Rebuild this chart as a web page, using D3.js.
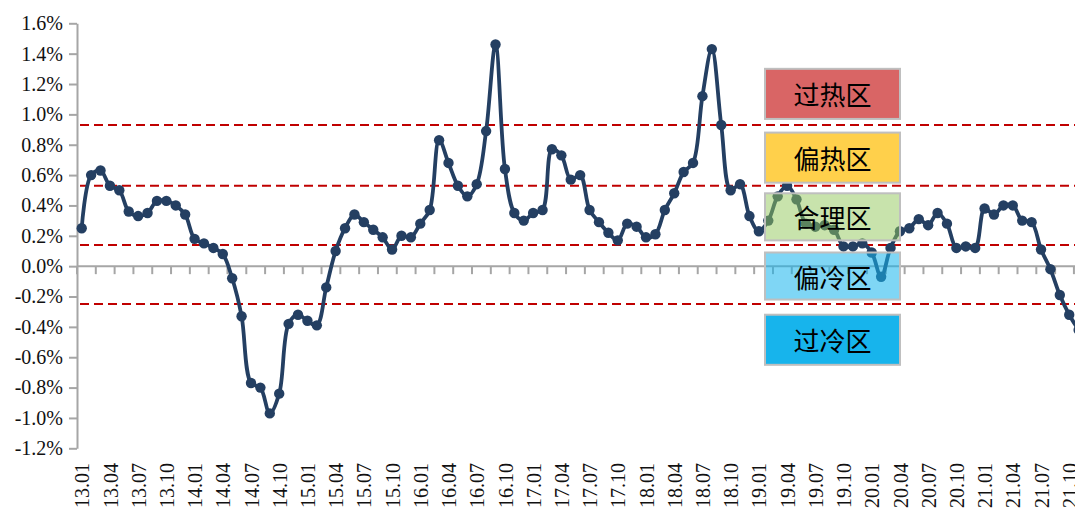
<!DOCTYPE html>
<html>
<head>
<meta charset="utf-8">
<script src="https://cdn.jsdelivr.net/npm/d3@7/dist/d3.min.js"></script>
<style>
  html, body { margin: 0; padding: 0; background: #fff; overflow: hidden; }
  svg { display: block; }
</style>
</head>
<body>
<svg id="chart" width="1075" height="508"></svg>
<script>
// ---- data ----
const years = ["13","14","15","16","17","18","19","20","21"];
const monthNums = ["01","02","03","04","05","06","07","08","09","10","11","12"];
const categories = [];
years.forEach(yr => monthNums.forEach(m => categories.push(yr + "." + m)));

const values = [
  0.25, 0.60, 0.63, 0.53, 0.50, 0.36, 0.33, 0.35, 0.43, 0.43, 0.40, 0.34,   // 2013
  0.18, 0.15, 0.12, 0.08, -0.08, -0.33, -0.77, -0.80, -0.97, -0.84, -0.38, -0.32, // 2014
  -0.36, -0.39, -0.14, 0.10, 0.25, 0.34, 0.29, 0.24, 0.19, 0.11, 0.20, 0.19, // 2015
  0.28, 0.37, 0.83, 0.68, 0.53, 0.46, 0.54, 0.89, 1.46, 0.64, 0.35, 0.30,   // 2016
  0.35, 0.37, 0.77, 0.73, 0.57, 0.60, 0.37, 0.29, 0.22, 0.17, 0.28, 0.26,   // 2017
  0.19, 0.21, 0.37, 0.48, 0.62, 0.68, 1.12, 1.43, 0.93, 0.50, 0.54, 0.33,   // 2018
  0.23, 0.30, 0.46, 0.53, 0.44, 0.28, 0.26, 0.27, 0.24, 0.13, 0.13, 0.15,   // 2019
  0.09, -0.07, 0.12, 0.23, 0.25, 0.31, 0.27, 0.35, 0.28, 0.12, 0.13, 0.12,  // 2020
  0.38, 0.34, 0.40, 0.40, 0.30, 0.29, 0.11, -0.02, -0.19, -0.32, -0.42      // 2021
];

const yTicks = [-1.2, -1.0, -0.8, -0.6, -0.4, -0.2, 0.0, 0.2, 0.4, 0.6, 0.8, 1.0, 1.2, 1.4, 1.6];
const xTickLabels = categories.filter((c, i) => i % 3 === 0);

const thresholds = [0.93, 0.53, 0.14, -0.25];
const zoneNames = ["过热区", "偏热区", "合理区", "偏冷区", "过冷区"];
const zoneColors = ["#D96565", "#FFD04B", "rgba(146,200,90,0.5)", "rgba(22,180,237,0.55)", "#17B4EC"];
// zone box value ranges (top, bottom) in %
const zoneTop =    [1.30, 0.88, 0.48, 0.09, -0.32];
const zoneBottom = [0.97, 0.55, 0.17, -0.22, -0.65];

// ---- layout ----
const svg = d3.select("#chart");
const plotLeft = 77, plotTop = 23.3, plotBottom = 448.3;
const bw = 9.405;
const x = d3.scaleBand().domain(categories).range([plotLeft, plotLeft + categories.length * bw]).padding(0);
const y = d3.scaleLinear().domain([-1.2, 1.6]).range([plotBottom, plotTop]);
const cx = c => x(c) + x.bandwidth() / 2;

const serif = "'Liberation Serif', 'Times New Roman', serif";

// y axis
const yAxis = d3.axisLeft(y).tickValues(yTicks).tickFormat(d => d.toFixed(1) + "%").tickSize(8).tickSizeOuter(0).tickPadding(6);
const gy = svg.append("g").attr("transform", `translate(${plotLeft},0)`).call(yAxis);
gy.select(".domain").attr("stroke", "#A6A6A6").attr("stroke-width", 2);
gy.selectAll(".tick line").attr("stroke", "#A6A6A6").attr("stroke-width", 2);
gy.selectAll(".tick text").attr("font-family", serif).attr("font-size", 20).attr("fill", "#111");

// x axis (at zero)
const y0 = y(0);
svg.append("line").attr("x1", plotLeft).attr("x2", 1100).attr("y1", y0).attr("y2", y0)
  .attr("stroke", "#A6A6A6").attr("stroke-width", 2);
const boundaries = d3.range(0, categories.length + 1, 2).map(k => plotLeft + k * bw);
svg.append("g").selectAll("line").data(boundaries).join("line")
  .attr("x1", d => d).attr("x2", d => d).attr("y1", y0).attr("y2", y0 + 8)
  .attr("stroke", "#A6A6A6").attr("stroke-width", 2);

svg.append("g").selectAll("text").data(xTickLabels).join("text")
  .attr("transform", d => `translate(${cx(d) + 1},463) rotate(-90)`)
  .attr("text-anchor", "end").attr("dy", "0.33em")
  .attr("font-family", serif).attr("font-size", 20).attr("fill", "#111")
  .text(d => d);

// threshold dashed lines
svg.append("g").selectAll("line").data(thresholds).join("line")
  .attr("x1", plotLeft + 3).attr("x2", 1100).attr("y1", d => y(d)).attr("y2", d => y(d))
  .attr("stroke", "#C00000").attr("stroke-width", 2).attr("stroke-dasharray", "9,5");

// data line
const pts = values.map((v, i) => [cx(categories[i]), y(v)]);
const line = d3.line().curve(d3.curveCatmullRom.alpha(0.5));
svg.append("path").attr("d", line(pts)).attr("fill", "none")
  .attr("stroke", "#243F62").attr("stroke-width", 3.8).attr("stroke-linejoin", "round");
svg.append("g").selectAll("circle").data(pts).join("circle")
  .attr("cx", d => d[0]).attr("cy", d => d[1]).attr("r", 5.2).attr("fill", "#243F62");

// zone boxes
const boxX = 765, boxW = 135;
const gz = svg.append("g");
zoneNames.forEach((name, i) => {
  const yt = y(zoneTop[i]), yb = y(zoneBottom[i]);
  gz.append("rect").attr("x", boxX).attr("y", yt).attr("width", boxW).attr("height", yb - yt)
    .attr("fill", zoneColors[i]).attr("stroke", "#BFBFBF").attr("stroke-width", 2);
  gz.append("text").attr("x", boxX + boxW / 2).attr("y", (yt + yb) / 2)
    .attr("text-anchor", "middle").attr("dominant-baseline", "central")
    .attr("font-family", "'Noto Sans CJK SC', sans-serif").attr("font-size", 26).attr("fill", "#000")
    .text(name);
});
</script>
</body>
</html>
